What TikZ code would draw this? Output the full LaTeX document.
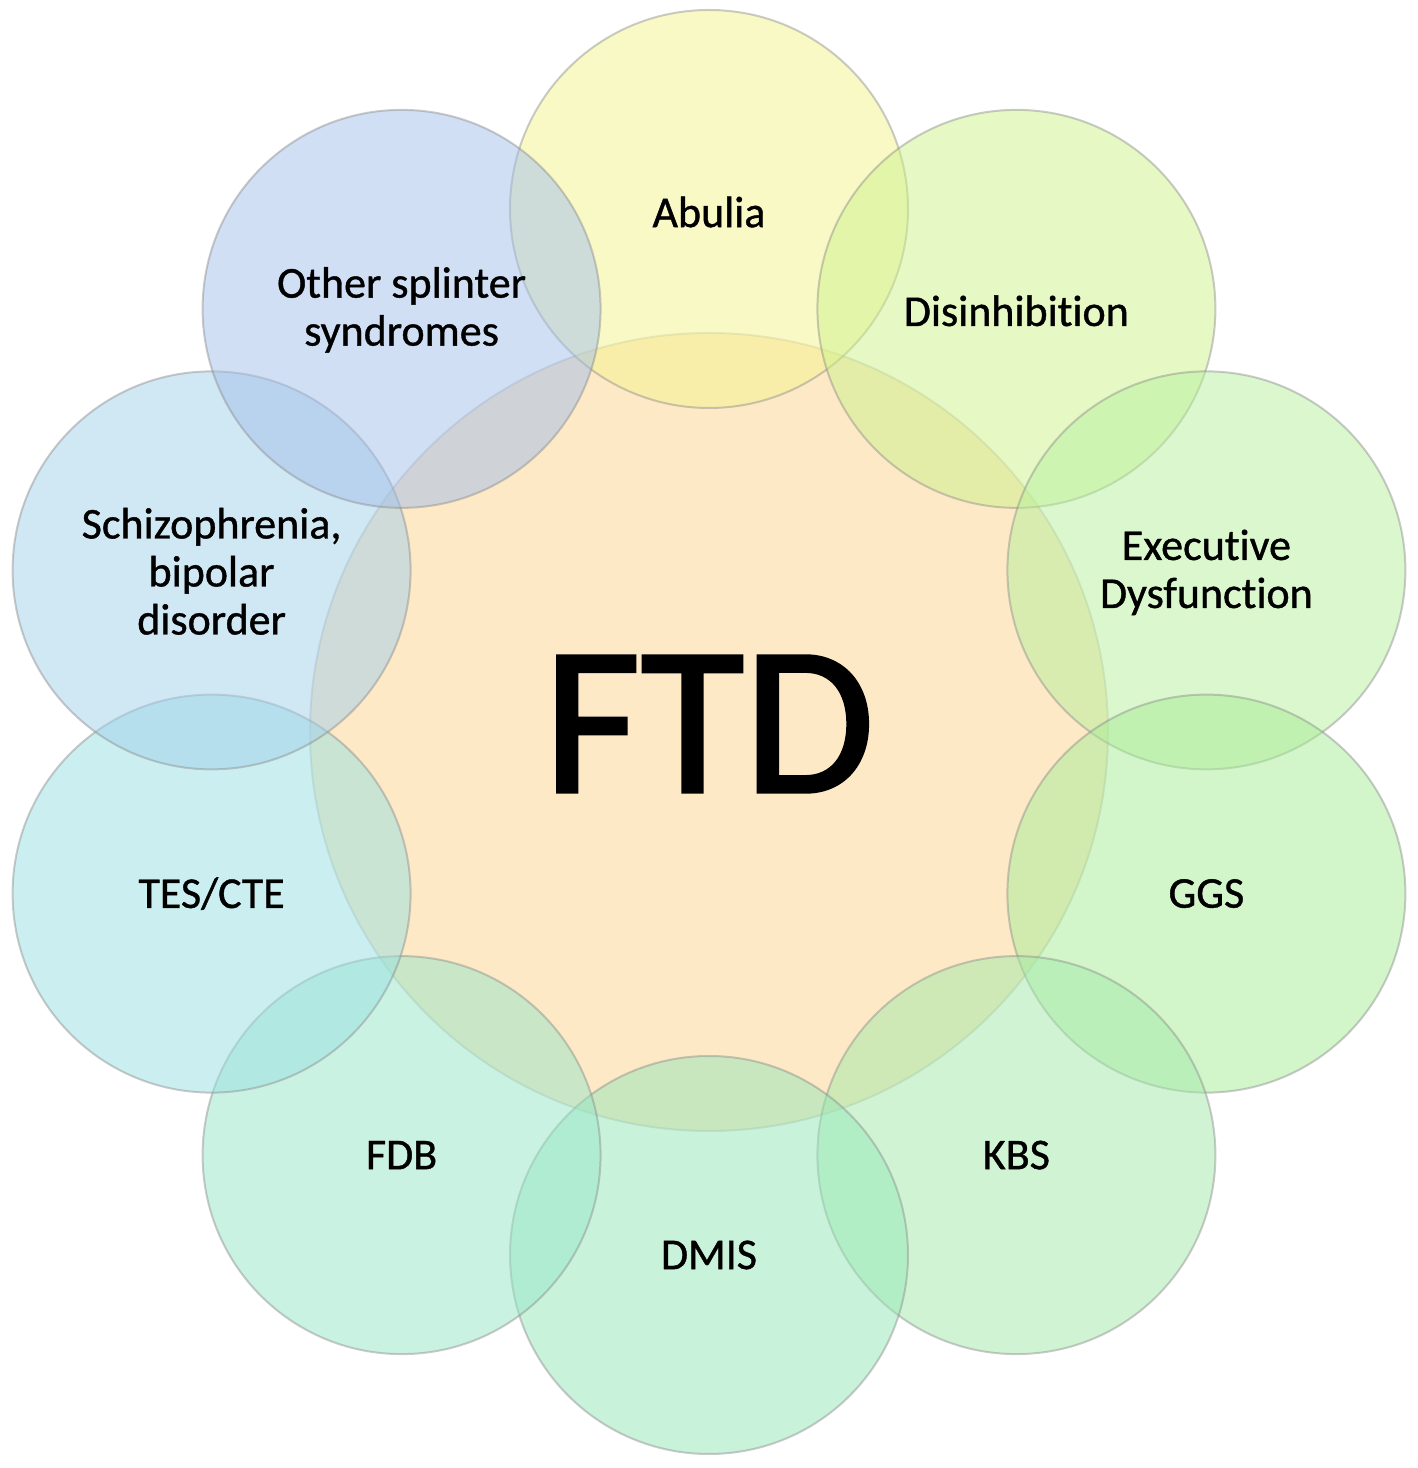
\documentclass[tikz,border=0pt]{standalone}
\usepackage{fontspec}
\setmainfont{Carlito}
\newfontfamily\lblfont[FakeBold=0.9,Ligatures={NoCommon,NoDiscretionary}]{Carlito}
\newfontfamily\bigfont[FakeBold=1.6]{Carlito}
\usetikzlibrary{calc}
\definecolor{cCenter}{HTML}{FDE9C6}
\definecolor{cA}{HTML}{F4F48E}
\definecolor{cB}{HTML}{CDF28A}
\definecolor{cC}{HTML}{B6F09C}
\definecolor{cD}{HTML}{A6EC96}
\definecolor{cE}{HTML}{A2EAA8}
\definecolor{cF}{HTML}{94E6B8}
\definecolor{cG}{HTML}{96E6C8}
\definecolor{cH}{HTML}{98E0E2}
\definecolor{cI}{HTML}{A2CFEA}
\definecolor{cJ}{HTML}{A2BFEA}
\tikzset{
  ring/.style={circle, minimum size=398pt, inner sep=0pt, line width=2pt,
    draw=black!45, draw opacity=0.45, fill=#1, fill opacity=0.5},
  hub/.style={circle, minimum size=798pt, inner sep=0pt, line width=2pt,
    draw=black!30, draw opacity=0.45, fill=cCenter},
  lbl/.style={font=\lblfont\fontsize{44}{48}\selectfont, align=center, text=black},
  big/.style={font=\bigfont\fontsize{212}{220}\selectfont, text=black}
}
\begin{document}
\begin{tikzpicture}[x=1pt,y=1pt]
\useasboundingbox (0,0) rectangle (1418,1468);
\coordinate (O) at (709,736);
\node[hub] (ftd) at (O) {};
\node[ring=cA] (c1) at ($(O)+(90:523)$) {};
\node[ring=cB] (c2) at ($(O)+(54:523)$) {};
\node[ring=cC] (c3) at ($(O)+(18:523)$) {};
\node[ring=cD] (c4) at ($(O)+(-18:523)$) {};
\node[ring=cE] (c5) at ($(O)+(-54:523)$) {};
\node[ring=cF] (c6) at ($(O)+(-90:523)$) {};
\node[ring=cG] (c7) at ($(O)+(-126:523)$) {};
\node[ring=cH] (c8) at ($(O)+(-162:523)$) {};
\node[ring=cI] (c9) at ($(O)+(162:523)$) {};
\node[ring=cJ] (c10) at ($(O)+(126:523)$) {};
\node[big] (tftd) at ($(ftd.center)+(0,8)$) {FTD};
\node[lbl] (t1) at ($(c1.center)+(0,-3)$) {Abulia};
\node[lbl] (t2) at ($(c2.center)+(0,-2)$) {Disinhibition};
\node[lbl] (t3) at ($(c3.center)+(0,-2)$) {Executive\\Dysfunction};
\node[lbl] (t4) at (c4.center) {GGS};
\node[lbl] (t5) at (c5.center) {KBS};
\node[lbl] (t6) at (c6.center) {DMIS};
\node[lbl] (t7) at (c7.center) {FDB};
\node[lbl] (t8) at (c8.center) {TES/CTE};
\node[lbl] (t9) at ($(c9.center)+(0,-1)$) {Schizophrenia,\\bipolar\\disorder};
\node[lbl] (t10) at ($(c10.center)+(0,-1)$) {Other splinter\\syndromes};
\end{tikzpicture}
\end{document}
